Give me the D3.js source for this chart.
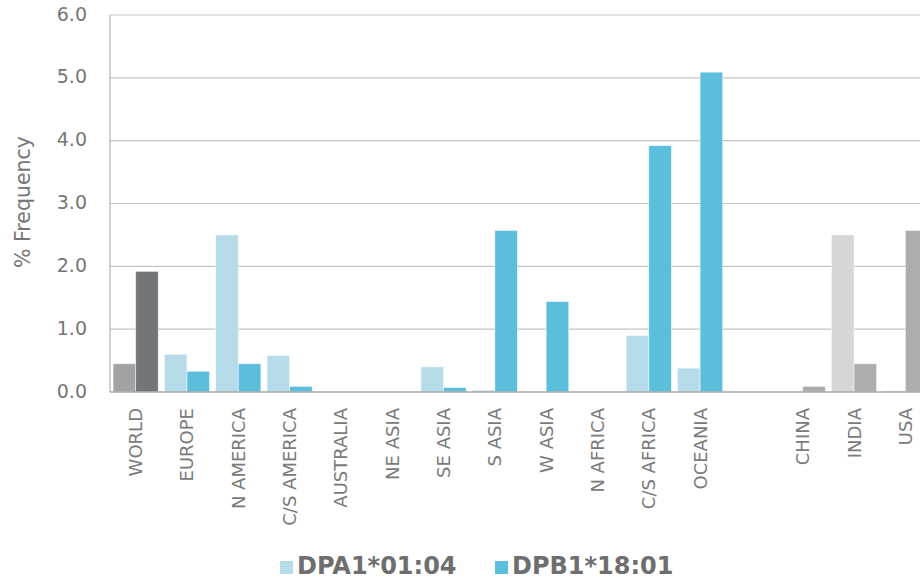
<!DOCTYPE html>
<html>
<head>
<meta charset="utf-8">
<script src="https://cdn.jsdelivr.net/npm/d3@7"></script>
<style>
  body { margin: 0; background: #fff; }
  svg { display: block; font-family: "DejaVu Sans", sans-serif; }
</style>
</head>
<body>
<svg id="chart" width="920" height="581"></svg>
<script>
const categories = ['WORLD', 'EUROPE', 'N AMERICA', 'C/S AMERICA', 'AUSTRALIA', 'NE ASIA', 'SE ASIA', 'S ASIA',
  'W ASIA', 'N AFRICA', 'C/S AFRICA', 'OCEANIA', '', 'CHINA', 'INDIA', 'USA'];
const dpa1 = [0.45, 0.60, 2.50, 0.58, 0, 0, 0.40, 0.03, 0, 0, 0.90, 0.38, null, 0, 2.50, 0.02];
const dpb1 = [1.92, 0.33, 0.45, 0.09, 0, 0, 0.07, 2.57, 1.44, 0, 3.92, 5.09, null, 0.09, 0.45, 2.57];
const seriesNames = ['DPA1*01:04', 'DPB1*18:01'];
const yTicks = [0, 1, 2, 3, 4, 5, 6];

// colours per group: world (grey), regions (blue), countries (light grey)
const colorFor = (cat, s) => {
  if (cat === 'WORLD') return s === 0 ? '#a1a2a3' : '#737678';
  if (['CHINA', 'INDIA', 'USA'].includes(cat)) return s === 0 ? '#d6d6d8' : '#adadad';
  return s === 0 ? '#b6dcea' : '#5bbfdc';
};

const margin = {top: 15, left: 110, bottom: 189};
const height = 581 - margin.top - margin.bottom;
const svg = d3.select('#chart');
const g = svg.append('g').attr('transform', `translate(${margin.left},${margin.top})`);

const x = d3.scaleBand().domain(categories.map((c, i) => i)).range([0, 821]).paddingInner(0.12).paddingOuter(0.06);
const xs = d3.scaleBand().domain([0, 1]).range([0, x.bandwidth()]);
const y = d3.scaleLinear().domain([0, 6]).range([height, 0]);

g.selectAll('line.grid').data(yTicks.slice(1)).join('line').attr('class', 'grid')
  .attr('x1', 0).attr('x2', 810).attr('y1', d => y(d)).attr('y2', d => y(d))
  .attr('stroke', '#c4c4c4').attr('stroke-width', 1.2);

g.selectAll('text.ytick').data(yTicks).join('text').attr('class', 'ytick')
  .attr('x', -23).attr('y', d => y(d)).attr('text-anchor', 'end').attr('dominant-baseline', 'middle')
  .style('font-size', '19px').attr('fill', '#767676').text(d => d.toFixed(1));

svg.append('text').attr('transform', `translate(30,${margin.top + 187}) rotate(-90)`)
  .attr('text-anchor', 'middle').style('font-size', '20.5px').attr('fill', '#767676').text('% Frequency');

const rows = categories.map((c, i) => ({i, c, vals: [dpa1[i], dpb1[i]]}));
const grp = g.selectAll('g.cat').data(rows).join('g').attr('class', 'cat')
  .attr('transform', d => `translate(${x(d.i)},0)`);
grp.selectAll('rect').data(d => d.vals.map((v, s) => ({v, s, c: d.c})).filter(e => e.v)).join('rect')
  .attr('x', e => xs(e.s)).attr('width', xs.bandwidth())
  .attr('y', e => y(e.v)).attr('height', e => y(0) - y(e.v))
  .attr('fill', e => colorFor(e.c, e.s)).attr('stroke', '#ffffff').attr('stroke-opacity', 0.6).attr('stroke-width', 0.8);

g.append('line').attr('x1', 0).attr('x2', 0).attr('y1', 0).attr('y2', height).attr('stroke', '#b3b3b3').attr('stroke-width', 1.2);
g.append('line').attr('x1', 0).attr('x2', 810).attr('y1', height).attr('y2', height).attr('stroke', '#a8a8a8').attr('stroke-width', 1.5);

g.selectAll('text.xlab').data(rows).join('text').attr('class', 'xlab')
  .attr('transform', d => `translate(${x(d.i) + x.bandwidth() / 2 + 6.5},${height + 16}) rotate(-90)`)
  .attr('text-anchor', 'end').style('font-size', '18px').attr('fill', '#7a7a7a').text(d => d.c);

const legend = svg.append('g').attr('transform', 'translate(280,567)');
const lg = legend.selectAll('g').data(seriesNames).join('g').attr('transform', (d, i) => `translate(${i * 215},0)`);
lg.append('rect').attr('x', 0).attr('y', -6).attr('width', 13).attr('height', 13).attr('fill', (d, i) => colorFor('EUROPE', i));
lg.append('text').attr('x', 17).attr('y', 0).attr('dominant-baseline', 'middle')
  .style('font-size', '24px').style('font-weight', 'bold').attr('fill', '#6e6e6e').text(d => d);
</script>
</body>
</html>
